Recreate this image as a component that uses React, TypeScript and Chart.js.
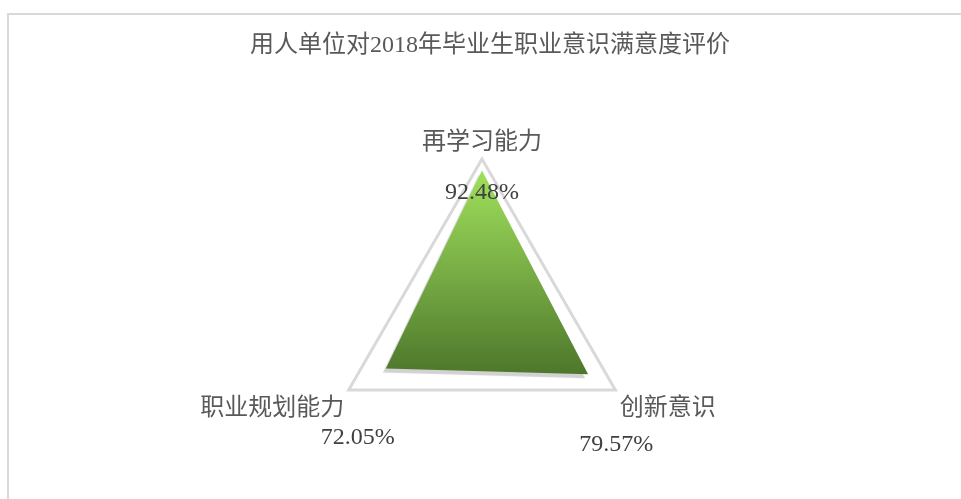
import React, { useEffect, useRef } from "react";
import { Chart, registerables } from "chart.js";

Chart.register(...registerables);

const TITLE = "用人单位对2018年毕业生职业意识满意度评价";
const categories = ["再学习能力", "创新意识", "职业规划能力"];
const satisfaction = [92.48, 79.57, 72.05];
const axisMin = 0;
const axisMax = 100;

const W = 961;
const H = 499;

// offsets of the value labels relative to each axis' outer vertex
const valueOffsets = [
  { dx: 0, dy: 34 },
  { dx: 1, dy: 55 },
  { dx: 9, dy: 47.5 },
];

const textPlugin = {
  id: "radarText",
  beforeDatasetsDraw(chart: any) {
    const ctx = chart.ctx;
    ctx.save();
    ctx.shadowColor = "rgba(0,0,0,0.18)";
    ctx.shadowOffsetX = -3;
    ctx.shadowOffsetY = 4;
    ctx.shadowBlur = 1;
  },
  afterDatasetsDraw(chart: any) {
    const ctx = chart.ctx;
    ctx.restore();
    const r = chart.scales.r;
    const labels: string[] = chart.data.labels;
    const data: number[] = chart.data.datasets[0].data;
    ctx.save();
    // title
    ctx.fillStyle = "#595959";
    ctx.font = '24px "Liberation Serif", "Noto Sans CJK SC", sans-serif';
    ctx.textAlign = "center";
    ctx.textBaseline = "middle";
    ctx.fillText(TITLE, 490, 46);
    // point labels
    const fs = 24;
    ctx.font = fs + 'px "Noto Sans CJK SC", sans-serif';
    const pad = 5;
    const lh = fs * 1.15;
    labels.forEach((lab, i) => {
      const p = r.getPointPosition(i, r.drawingArea + pad);
      const angle = (r.getIndexAngle(i) * 180) / Math.PI;
      let align: CanvasTextAlign = "center";
      let y = p.y;
      if (Math.round(angle) === 0) {
        align = "center";
        y = p.y - lh / 2;
      } else if (angle < 180) {
        align = "left";
        y = p.y + lh / 2;
      } else {
        align = "right";
        y = p.y + lh / 2;
      }
      ctx.textAlign = align;
      ctx.fillText(lab, p.x, y);
    });
    // value labels
    ctx.fillStyle = "#404040";
    ctx.font = '24px "Liberation Serif", serif';
    ctx.textAlign = "center";
    data.forEach((v, i) => {
      const p = r.getPointPositionForValue(i, axisMax);
      const o = valueOffsets[i];
      ctx.fillText(v.toFixed(2) + "%", p.x + o.dx, p.y + o.dy);
    });
    ctx.restore();
  },
};

export default function App() {
  const ref = useRef<HTMLCanvasElement | null>(null);
  useEffect(() => {
    if (!ref.current) return;
    const chart = new Chart(ref.current, {
      type: "radar",
      data: {
        labels: categories,
        datasets: [
          {
            label: "满意度",
            data: satisfaction,
            backgroundColor: (c: any) => {
              const ch = c.chart;
              const r = ch.scales && ch.scales.r;
              if (!ch.chartArea || !r) return "#7aae45";
              const ys = satisfaction.map((v, i) => r.getPointPositionForValue(i, v).y);
              const top = Math.min(...ys);
              const bot = Math.max(...ys);
              const g = ch.ctx.createLinearGradient(0, top, 0, bot);
              g.addColorStop(0, "#9fe05a");
              g.addColorStop(0.5, "#78ad45");
              g.addColorStop(1, "#4d772b");
              return g;
            },
            borderWidth: 0,
            borderColor: "rgba(0,0,0,0)",
            pointRadius: 0,
            pointHoverRadius: 0,
            fill: true,
            clip: false as any,
          },
        ],
      },
      options: {
        responsive: false,
        animation: false,
        devicePixelRatio: 1,
        layout: { padding: { top: 159, bottom: 32, left: 4, right: 0 } },
        plugins: {
          legend: { display: false },
          title: { display: false },
          tooltip: { enabled: false },
        },
        scales: {
          r: {
            min: axisMin,
            max: axisMax,
            ticks: { display: false, stepSize: 100 },
            grid: { color: "#d9d9d9", lineWidth: 3 },
            angleLines: { display: false },
            pointLabels: { display: false },
          },
        },
      },
      plugins: [textPlugin],
    });
    return () => chart.destroy();
  }, []);
  return (
    <div style={{ position: "fixed", left: 0, top: 0, width: W, height: H, overflow: "hidden", background: "#fff" }}>
      <div
        style={{
          position: "absolute",
          left: 7,
          top: 13,
          width: 1200,
          height: 1000,
          borderLeft: "2px solid #d9d9d9",
          borderTop: "2px solid #d9d9d9",
          boxSizing: "border-box",
        }}
      />
      <canvas ref={ref} width={W} height={H} style={{ position: "absolute", left: 0, top: 0 }} />
    </div>
  );
}
